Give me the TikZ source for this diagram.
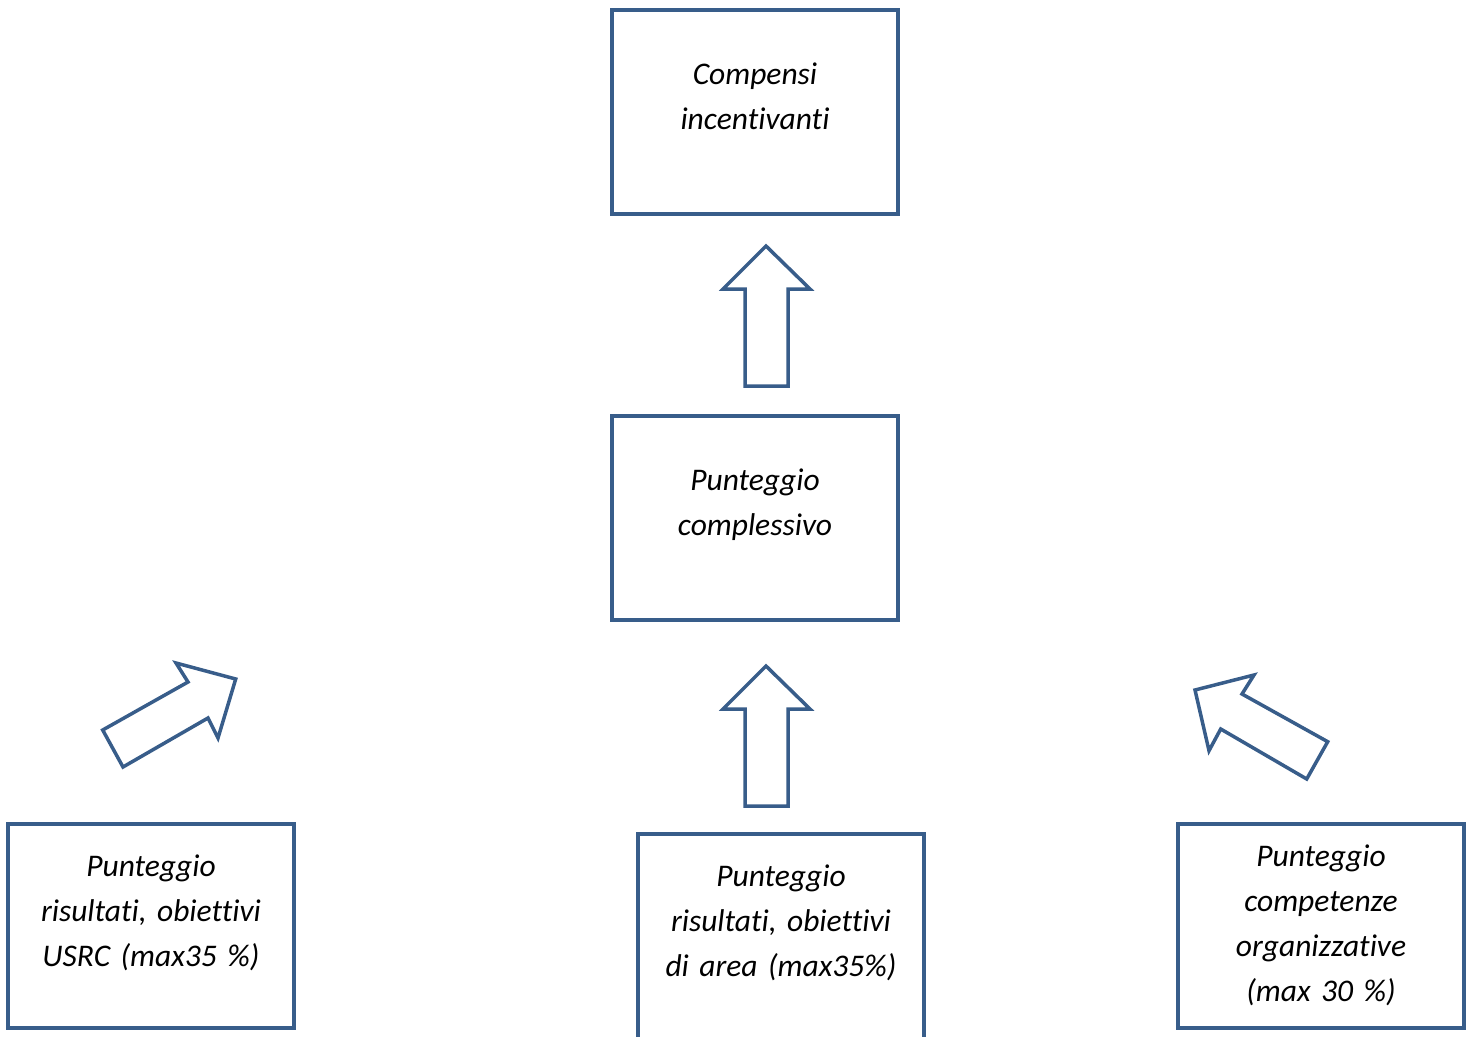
\documentclass[tikz,border=0pt]{standalone}
\usepackage{fontspec}
\setmainfont[Ligatures={NoCommon,NoRare}]{Carlito}
\definecolor{boxblue}{HTML}{385D8A}
\begin{document}
\begin{tikzpicture}[x=1pt,y=-1pt,
  box/.style={draw=boxblue,line width=3.5pt,fill=white,minimum width=286pt,minimum height=204pt,inner sep=0pt,outer sep=0pt,anchor=north west},
  txt/.style={text width=280pt,align=center,anchor=base,inner sep=0pt,font=\fontsize{31.5}{45}\selectfont\itshape},
  blockarrow/.style={draw=boxblue,line width=3.5pt,fill=white,line join=miter}]
\useasboundingbox (0,0) rectangle (1474,1036);
% boxes
\node[box] (top) at (612,10) {};
\node[box] (mid) at (612,416) {};
\node[box] (bl) at (8,824) {};
\node[box,minimum height=210pt] (bm) at (638,834) {};
\node[box] (br) at (1178,824) {};
% texts
\node[txt] (toptxt) at (755,84) {Compensi\\incentivanti};
\node[txt] (midtxt) at (755,490) {Punteggio\\complessivo};
\node[txt] (bltxt) at (151,876) {Punteggio\\risultati, obiettivi\\USRC (max35 \%)};
\node[txt] (bmtxt) at (781,886) {Punteggio\\risultati, obiettivi\\di area (max35\%)};
\node[txt] (brtxt) at (1321,866) {Punteggio\\competenze\\organizzative\\(max 30 \%)};
% block arrows
\draw[blockarrow] (766,246) -- (810,289) -- (788,289) -- (788,386) -- (745,386) -- (745,289) -- (723,289) -- cycle;
\draw[blockarrow] (766,666) -- (810,709) -- (788,709) -- (788,806) -- (745,806) -- (745,709) -- (723,709) -- cycle;
\draw[blockarrow] (235.7,679) -- (218,738) -- (208,718) -- (123,767) -- (102.7,730) -- (188,682) -- (176,663) -- cycle;
\draw[blockarrow] (1195,690) -- (1254,675) -- (1242,694) -- (1327.7,741.7) -- (1306.7,779) -- (1220.7,729) -- (1209,750.7) -- cycle;
\end{tikzpicture}
\end{document}
